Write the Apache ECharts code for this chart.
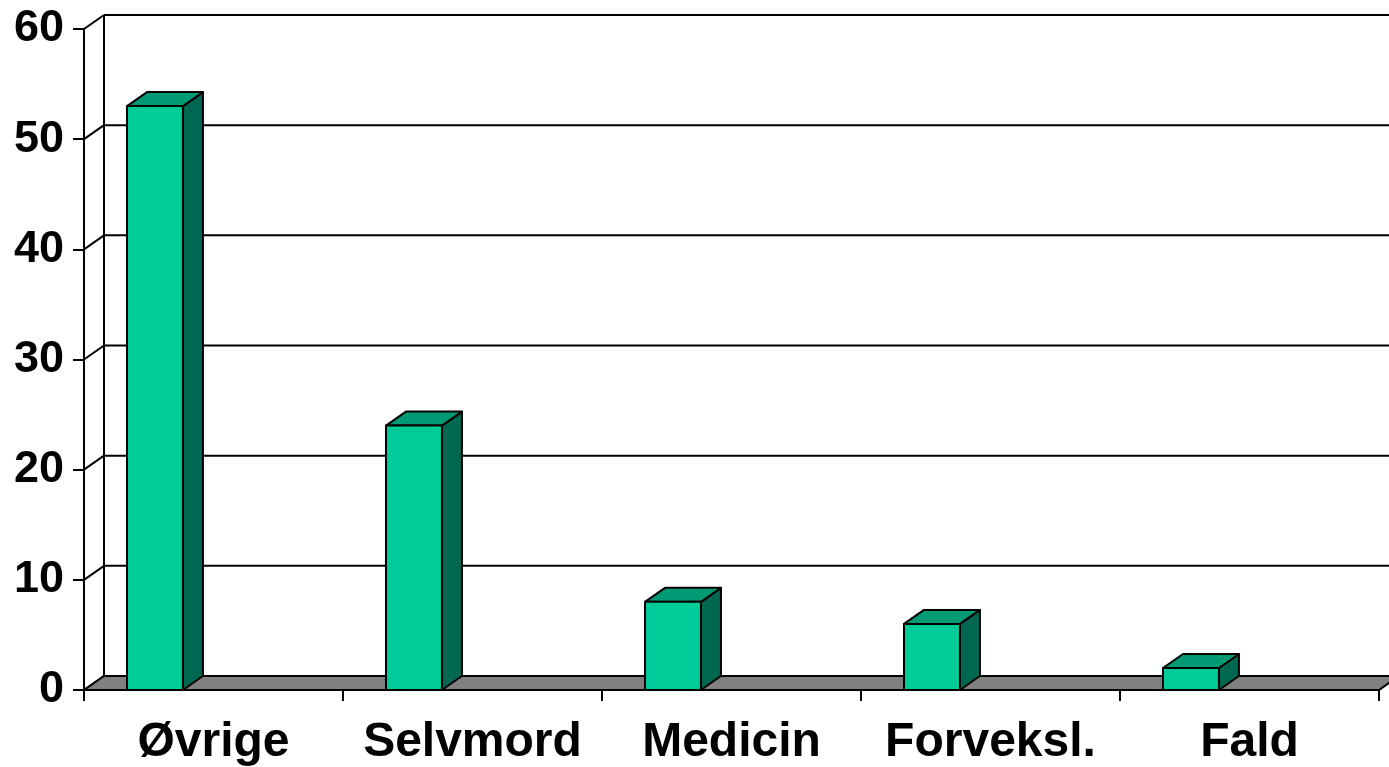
<!DOCTYPE html>
<html>
<head>
<meta charset="utf-8">
<style>
html,body{margin:0;padding:0;background:#fff;}
#chart{width:1389px;height:767px;}
</style>
<script src="https://cdn.jsdelivr.net/npm/echarts@6/dist/echarts.min.js"></script>
</head>
<body>
<div id="chart"></div>
<script>
var categories = ['Øvrige', 'Selvmord', 'Medicin', 'Forveksl.', 'Fald'];
var values = [53, 24, 8, 6, 2];
var yTicks = [0, 10, 20, 30, 40, 50, 60];

var DX = 20, DY = -14;
var FRONT = '#00CC99', TOP = '#009B74', SIDE = '#006850';
var FONT = '"Liberation Sans", Arial, sans-serif';

var chart = echarts.init(document.getElementById('chart'));

function frameRender(params, api) {
  var children = [];
  var x0 = api.coord([0, 0]);
  var bw = api.size([1, 0])[0];
  var left = x0[0] - bw / 2;
  var right = left + bw * categories.length;
  var yBase = api.coord([0, 0])[1];
  var yTop = api.coord([0, 60])[1];
  var ls = {stroke: '#000', lineWidth: 2};
  children.push({type: 'line', shape: {x1: left + DX, y1: yBase + DY, x2: left + DX, y2: yTop + DY}, style: ls});
  yTicks.forEach(function (t) {
    var y = api.coord([0, t])[1];
    if (t > 0) {
      children.push({type: 'line', shape: {x1: left + DX, y1: y + DY, x2: right + DX + 40, y2: y + DY}, style: ls});
    }
    children.push({type: 'line', shape: {x1: left, y1: y, x2: left + DX, y2: y + DY}, style: ls});
  });
  children.push({type: 'polygon', shape: {points: [[left, yBase], [right, yBase], [right + DX, yBase + DY], [left + DX, yBase + DY]]},
    style: {fill: '#808080', stroke: '#000', lineWidth: 2}});
  return {type: 'group', children: children};
}

function barRender(params, api) {
  var i = api.value(0);
  var v = api.value(1);
  var c = api.coord([i, v]);
  var b = api.coord([i, 0]);
  var bw = api.size([1, 0])[0];
  var x1 = c[0] - bw * 0.334;
  var x2 = x1 + bw * 0.216;
  var yt = c[1], yb = b[1];
  var st = {stroke: '#000', lineWidth: 2, lineJoin: 'round'};
  return {type: 'group', children: [
    {type: 'polygon', shape: {points: [[x2, yb], [x2 + DX, yb + DY], [x2 + DX, yt + DY], [x2, yt]]}, style: Object.assign({fill: SIDE}, st)},
    {type: 'polygon', shape: {points: [[x1, yt], [x2, yt], [x2 + DX, yt + DY], [x1 + DX, yt + DY]]}, style: Object.assign({fill: TOP}, st)},
    {type: 'rect', shape: {x: x1, y: yt, width: x2 - x1, height: yb - yt}, style: Object.assign({fill: FRONT}, st)}
  ]};
}

chart.setOption({
  animation: false,
  grid: {left: 84, right: 10, top: 29, bottom: 77, containLabel: false},
  xAxis: {
    type: 'category',
    data: categories,
    boundaryGap: true,
    axisLine: {show: true, lineStyle: {color: '#000', width: 2}},
    axisTick: {show: true, length: 11, lineStyle: {color: '#000', width: 2}},
    axisLabel: {color: '#000', fontFamily: FONT, fontWeight: 'bold', fontSize: 48, margin: 29, interval: 0, hideOverlap: false},
    splitLine: {show: false}
  },
  yAxis: {
    type: 'value',
    min: 0, max: 60, interval: 10,
    axisLine: {show: true, lineStyle: {color: '#000', width: 2}},
    axisTick: {show: true, length: 11, lineStyle: {color: '#000', width: 2}},
    axisLabel: {color: '#000', fontFamily: FONT, fontWeight: 'bold', fontSize: 45, margin: 20},
    splitLine: {show: false}
  },
  series: [
    {type: 'custom', renderItem: frameRender, data: [[0, 0]], z: 1, silent: true},
    {type: 'custom', renderItem: barRender, data: values.map(function (v, i) { return [i, v]; }), z: 3}
  ]
});
</script>
</body>
</html>
